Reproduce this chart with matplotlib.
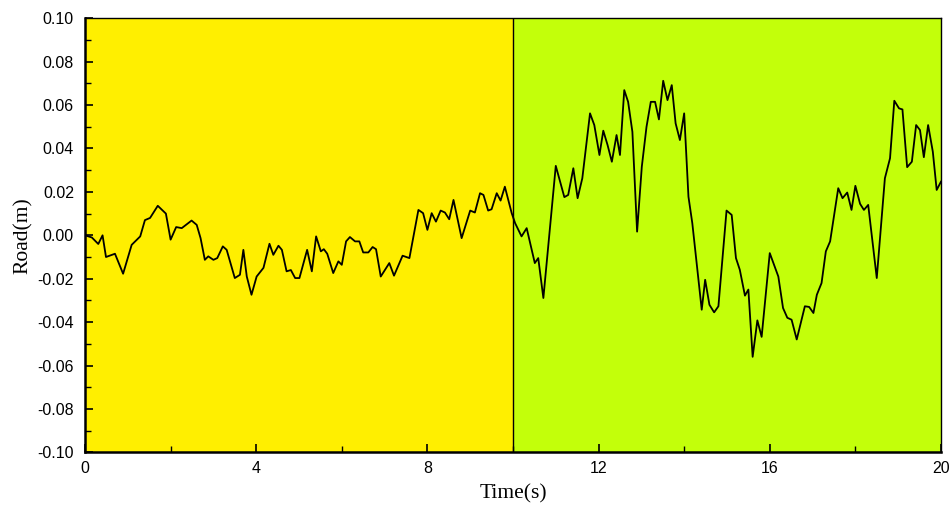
import matplotlib
matplotlib.use("Agg")
import matplotlib.pyplot as plt
from matplotlib.ticker import MultipleLocator, FuncFormatter

# road profile (time in s, road height in m)
time_s = [
    0.00, 0.16, 0.31, 0.41, 0.49, 0.70, 0.89, 1.09, 1.29, 1.40, 1.52, 1.70, 1.89,
    2.00, 2.13, 2.26, 2.49, 2.61, 2.70, 2.80, 2.88, 3.00, 3.09, 3.22, 3.31, 3.50,
    3.62, 3.70, 3.78, 3.89, 4.01, 4.17, 4.31, 4.40, 4.52, 4.60, 4.71, 4.81, 4.91,
    5.01, 5.19, 5.30, 5.40, 5.51, 5.58, 5.66, 5.80, 5.92, 6.00, 6.10, 6.19, 6.31,
    6.41, 6.50, 6.62, 6.72, 6.80, 6.91, 7.11, 7.22, 7.42, 7.58, 7.79, 7.90, 8.00,
    8.10, 8.20, 8.31, 8.41, 8.51, 8.61, 8.80, 9.00, 9.11, 9.23, 9.31, 9.42, 9.50,
    9.62, 9.71, 9.81, 9.97, 10.05, 10.20, 10.32, 10.51, 10.59, 10.71, 11.00, 11.20,
    11.29, 11.41, 11.51, 11.62, 11.80, 11.90, 12.02, 12.11, 12.21, 12.31, 12.42,
    12.50, 12.60, 12.69, 12.79, 12.90, 13.01, 13.12, 13.22, 13.32, 13.41, 13.51,
    13.61, 13.71, 13.80, 13.90, 14.00, 14.10, 14.19, 14.41, 14.49, 14.59, 14.70,
    14.80, 14.99, 15.11, 15.21, 15.30, 15.42, 15.50, 15.60, 15.71, 15.81, 16.00,
    16.20, 16.31, 16.41, 16.51, 16.63, 16.82, 16.92, 17.02, 17.10, 17.21, 17.31,
    17.41, 17.60, 17.70, 17.81, 17.91, 18.00, 18.11, 18.20, 18.30, 18.50, 18.69,
    18.81, 18.91, 19.02, 19.10, 19.21, 19.32, 19.42, 19.51, 19.60, 19.70, 19.81,
    19.90, 20.00,
]
road_m = [
    0.0000, -0.0010, -0.0040, 0.0000, -0.0100, -0.0085, -0.0177, -0.0044, -0.0005,
    0.0070, 0.0080, 0.0136, 0.0100, -0.0020, 0.0038, 0.0033, 0.0068, 0.0048,
    -0.0013, -0.0113, -0.0097, -0.0113, -0.0105, -0.0051, -0.0067, -0.0197,
    -0.0182, -0.0067, -0.0190, -0.0274, -0.0190, -0.0150, -0.0039, -0.0090,
    -0.0048, -0.0067, -0.0166, -0.0160, -0.0197,
    -0.0197, -0.0067, -0.0166, -0.0005, -0.0074, -0.0064, -0.0085, -0.0174,
    -0.0120, -0.0136, -0.0028, -0.0008, -0.0028, -0.0028, -0.0079, -0.0079,
    -0.0054, -0.0064, -0.0190, -0.0128, -0.0186, -0.0094, -0.0105, 0.0117,
    0.0102, 0.0025, 0.0102, 0.0063, 0.0114, 0.0105, 0.0074, 0.0163, -0.0013,
    0.0114, 0.0105, 0.0194, 0.0186, 0.0114, 0.0120, 0.0194, 0.0160, 0.0224,
    0.0102, 0.0056, -0.0005, 0.0033, -0.0128, -0.0105, -0.0289, 0.0320, 0.0176,
    0.0186, 0.0309, 0.0171, 0.0263, 0.0562, 0.0508, 0.0370, 0.0482, 0.0416,
    0.0339, 0.0462, 0.0370, 0.0669, 0.0615, 0.0477, 0.0017, 0.0316, 0.0500,
    0.0615, 0.0615, 0.0534, 0.0712, 0.0623, 0.0692, 0.0516, 0.0439, 0.0562,
    0.0178, 0.0056, -0.0343, -0.0205, -0.0320, -0.0355, -0.0327, 0.0114, 0.0094,
    -0.0105, -0.0159, -0.0278, -0.0250, -0.0560, -0.0392, -0.0468, -0.0082,
    -0.0190, -0.0335, -0.0380, -0.0389, -0.0480, -0.0327, -0.0330, -0.0358,
    -0.0274, -0.0220, -0.0074, -0.0028, 0.0217, 0.0171, 0.0197, 0.0117, 0.0228,
    0.0145, 0.0117, 0.0140, -0.0197, 0.0263, 0.0355, 0.0620, 0.0585, 0.0580,
    0.0314, 0.0339, 0.0508, 0.0485, 0.0360, 0.0508, 0.0385, 0.0209, 0.0247,
]

# two road sections
section_edges = [0, 10, 20]
section_colors = ['#FFEF00', '#C3FF0A']

plt.rcParams['font.family'] = ['Liberation Sans', 'DejaVu Sans']

fig = plt.figure(figsize=(9.52, 5.08), dpi=100, facecolor='white')
ax = fig.add_axes([0.0893, 0.1096, 0.8991, 0.8544])

for i, c in enumerate(section_colors):
    ax.axvspan(section_edges[i], section_edges[i + 1], color=c, zorder=0, lw=0)
ax.axvline(section_edges[1], color='black', lw=1.0, zorder=1)

ax.plot(time_s, road_m, color='black', lw=1.3, zorder=2)

ax.set_xlim(0, 20)
ax.set_ylim(-0.10, 0.10)
ax.xaxis.set_major_locator(MultipleLocator(4))
ax.xaxis.set_minor_locator(MultipleLocator(2))
ax.yaxis.set_major_locator(MultipleLocator(0.02))
ax.yaxis.set_minor_locator(MultipleLocator(0.01))
ax.yaxis.set_major_formatter(FuncFormatter(lambda v, p: f"{v:.2f}".replace('\u2212', '-') if abs(v) > 1e-9 else "0.00"))

ax.tick_params(which='both', direction='in', labelsize=11.5, color='black')
ax.tick_params(which='major', length=6, width=1.2)
ax.tick_params(which='minor', length=4, width=1.0)
ax.tick_params(axis='x', pad=6)
ax.tick_params(axis='y', pad=8)

for side in ['left', 'bottom']:
    ax.spines[side].set_linewidth(1.8)
for side in ['top', 'right']:
    ax.spines[side].set_linewidth(1.0)

ax.set_xlabel('Time(s)', family='Liberation Serif', fontsize=15.5, labelpad=6)
ax.set_ylabel('Road(m)', family='Liberation Serif', fontsize=15.5, labelpad=3)

plt.savefig('out.png', dpi=100)
